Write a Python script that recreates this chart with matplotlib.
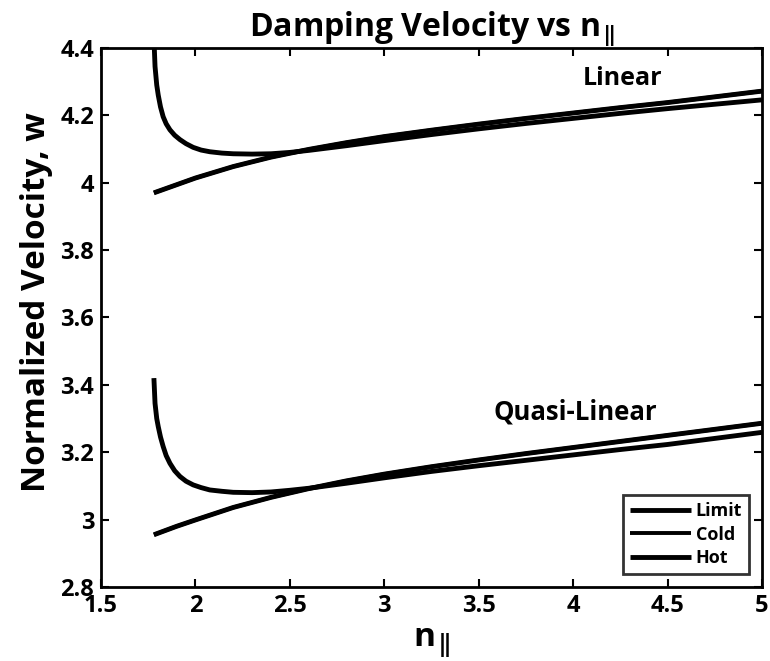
import matplotlib
matplotlib.use("Agg")
import matplotlib.pyplot as plt

plt.rcParams['font.family'] = ['Open Sans', 'DejaVu Sans']
plt.rcParams['font.weight'] = 'bold'
plt.rcParams['mathtext.fontset'] = 'custom'
plt.rcParams['mathtext.rm'] = 'Open Sans:bold'
plt.rcParams['mathtext.it'] = 'Open Sans:bold'
plt.rcParams['mathtext.bf'] = 'Open Sans:bold'

# ---- Linear damping ----
n_lin_cold = [1.78, 1.9, 2.0, 2.2, 2.4, 2.6, 2.8, 3.0, 3.25, 3.5, 3.75, 4.0, 4.25, 4.5, 4.75, 5.0]
w_lin_cold = [3.970, 3.994, 4.014, 4.048, 4.076, 4.099, 4.119, 4.137, 4.156, 4.174, 4.191, 4.207,
              4.223, 4.238, 4.255, 4.272]
n_lin_limit = n_lin_cold
w_lin_limit = [3.970, 3.994, 4.014, 4.048, 4.076, 4.099, 4.119, 4.137, 4.156, 4.174, 4.191, 4.207,
               4.223, 4.238, 4.255, 4.272]
n_lin_hot = [1.78, 1.786, 1.795, 1.803, 1.815, 1.829, 1.845, 1.865, 1.89, 1.918, 1.95, 1.988, 2.03,
             2.076, 2.14, 2.2, 2.3, 2.4, 2.5, 2.6, 2.8, 3.0, 3.25, 3.5, 3.75, 4.0, 4.25, 4.5, 4.75, 5.0]
w_lin_hot = [4.43, 4.345, 4.29, 4.26, 4.225, 4.196, 4.175, 4.157, 4.141, 4.128, 4.116, 4.105, 4.097,
             4.092, 4.088, 4.086, 4.085, 4.086, 4.090, 4.096, 4.110, 4.125, 4.143, 4.160, 4.176,
             4.191, 4.206, 4.220, 4.233, 4.246]

# ---- Quasi-linear damping ----
n_ql_cold = [1.78, 1.9, 2.0, 2.2, 2.4, 2.6, 2.8, 3.0, 3.25, 3.5, 3.75, 4.0, 4.25, 4.5, 4.75, 5.0]
w_ql_cold = [2.955, 2.980, 2.999, 3.036, 3.066, 3.092, 3.115, 3.135, 3.157, 3.177, 3.196, 3.214,
             3.232, 3.250, 3.268, 3.286]
n_ql_limit = n_ql_cold
w_ql_limit = [2.955, 2.980, 2.999, 3.036, 3.066, 3.092, 3.115, 3.135, 3.157, 3.177, 3.196, 3.214,
              3.232, 3.250, 3.268, 3.286]
n_ql_hot = [1.78, 1.786, 1.795, 1.803, 1.815, 1.829, 1.845, 1.865, 1.89, 1.918, 1.95, 1.988, 2.03,
            2.076, 2.14, 2.2, 2.3, 2.4, 2.5, 2.6, 2.8, 3.0, 3.25, 3.5, 3.75, 4.0, 4.25, 4.5, 4.75, 5.0]
w_ql_hot = [3.42, 3.345, 3.30, 3.276, 3.245, 3.217, 3.19, 3.167, 3.145, 3.128, 3.114, 3.103, 3.095,
            3.088, 3.084, 3.081, 3.080, 3.082, 3.087, 3.093, 3.108, 3.124, 3.143, 3.160, 3.176,
            3.192, 3.208, 3.223, 3.241, 3.259]

x_ticks = [1.5, 2, 2.5, 3, 3.5, 4, 4.5, 5]
x_tick_labels = ['1.5', '2', '2.5', '3', '3.5', '4', '4.5', '5']
y_ticks = [2.8, 3.0, 3.2, 3.4, 3.6, 3.8, 4.0, 4.2, 4.4]
y_tick_labels = ['2.8', '3', '3.2', '3.4', '3.6', '3.8', '4', '4.2', '4.4']

# parallel-index symbol: n with a double-bar subscript
n_par = r'n$_{|\!\!|}$'

fig = plt.figure(figsize=(7.7, 6.61), dpi=100)
ax = fig.add_axes([0.1312, 0.1120, 0.8584, 0.8154])

lw_main = 3.5
lw_cold = 2.8
ax.plot(n_lin_limit, w_lin_limit, color='black', lw=lw_main, label='Limit', solid_capstyle='butt')
ax.plot(n_lin_cold, w_lin_cold, color='black', lw=lw_cold, label='Cold', solid_capstyle='butt')
ax.plot(n_lin_hot, w_lin_hot, color='black', lw=lw_main, label='Hot', solid_capstyle='butt')
ax.plot(n_ql_limit, w_ql_limit, color='black', lw=lw_main, solid_capstyle='butt')
ax.plot(n_ql_cold, w_ql_cold, color='black', lw=lw_cold, solid_capstyle='butt')
ax.plot(n_ql_hot, w_ql_hot, color='black', lw=lw_main, solid_capstyle='butt')

ax.set_xlim(1.5, 5)
ax.set_ylim(2.8, 4.4)
ax.set_xticks(x_ticks)
ax.set_xticklabels(x_tick_labels)
ax.set_yticks(y_ticks)
ax.set_yticklabels(y_tick_labels)
ax.tick_params(direction='in', length=6, width=1.5, top=True, right=True,
               labelsize=17, pad=5)
for lab in ax.get_xticklabels() + ax.get_yticklabels():
    lab.set_fontweight('bold')
for sp in ax.spines.values():
    sp.set_linewidth(2.0)

ax.set_title('Damping Velocity vs ' + n_par, fontsize=23, fontweight='bold', pad=9)
ax.set_xlabel(n_par, fontsize=24, fontweight='bold', labelpad=6)
ax.set_ylabel('Normalized Velocity, w', fontsize=24, fontweight='bold')
ax.yaxis.set_label_coords(-0.072, 0.529)

ax.text(4.05, 4.31, 'Linear', fontsize=18, fontweight='bold', ha='left', va='center')
ax.text(3.58, 3.32, 'Quasi-Linear', fontsize=18.5, fontweight='bold', ha='left', va='center')

leg = ax.legend(loc='lower right', fontsize=13, frameon=True, fancybox=False,
                edgecolor='black', handlelength=3.4, handletextpad=0.25,
                labelspacing=0.3, borderpad=0.4, borderaxespad=0.7)
leg.get_frame().set_linewidth(2.0)
for t in leg.get_texts():
    t.set_fontweight('bold')

fig.savefig('out.png', dpi=100, facecolor='white')
